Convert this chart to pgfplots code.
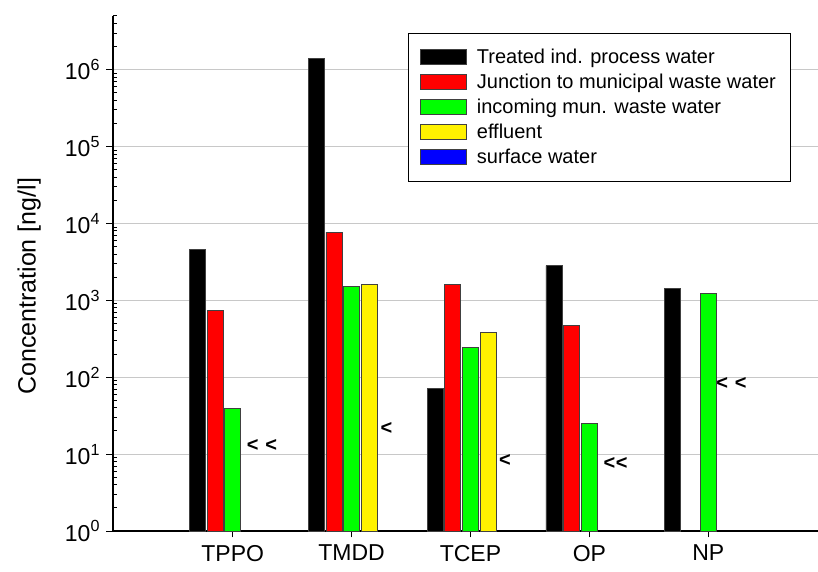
\documentclass[border=0pt]{standalone}
\usepackage{fontspec}
\setmainfont{Liberation Sans}
\usepackage{pgfplots}
\pgfplotsset{compat=1.18}
\definecolor{gridgray}{RGB}{200,200,200}
\pgfplotsset{
  barimg/.style={legend image code/.code={\draw[##1,line width=0.8pt] (0pt,-7.5pt) rectangle (46pt,7.5pt);}},
}
\begin{document}
\begin{tikzpicture}
\useasboundingbox (-113pt,-41pt) rectangle (705pt,531pt);
\begin{axis}[
  at={(0pt,0pt)}, anchor=south west,
  scale only axis, width=705pt, height=515pt,
  ymode=log, ymin=1, ymax=5e6,
  xmin=-1.007, xmax=4.923,
  axis x line*=bottom, axis y line*=left,
  axis line style={line width=1.3pt},
  xtick={0,1,2,3,4},
  xticklabels={TPPO,TMDD,TCEP,OP,NP},
  x tick label style={font=\fontsize{23}{27}\selectfont, yshift=-4pt},
  ytick={1,10,100,1000,10000,100000,1000000},
  yticklabels={10\textsuperscript{0},10\textsuperscript{1},10\textsuperscript{2},10\textsuperscript{3},10\textsuperscript{4},10\textsuperscript{5},10\textsuperscript{6}},
  minor ytick={2,3,4,5,6,7,8,9,20,30,40,50,60,70,80,90,200,300,400,500,600,700,800,900,2000,3000,4000,5000,6000,7000,8000,9000,20000,30000,40000,50000,60000,70000,80000,90000,200000,300000,400000,500000,600000,700000,800000,900000,2000000,3000000,4000000,5000000},
  y tick label style={font=\fontsize{23}{27}\selectfont, xshift=-3pt},
  tick align=outside,
  major tick length=6.5pt,
  minor tick length=4.5pt,
  tick style={black, line width=1pt},
  minor y tick style={xshift=4.5pt},
  ymajorgrids,
  major grid style={gridgray, line width=1.2pt},
  ylabel={Concentration [ng/l]},
  ylabel style={at={(axis description cs:-0.119,0.475)}, anchor=center, font=\fontsize{25}{30}\selectfont},
  ybar, bar width=16pt,
  every axis plot/.append style={draw=black!75, line width=0.8pt},
  legend style={at={(axis description cs:0.418,0.967)}, anchor=north west,
    draw=black, line width=0.8pt, font=\fontsize{20}{24}\selectfont,
    inner xsep=12pt, inner ysep=14pt, row sep=5pt,
    /tikz/every odd column/.append style={column sep=8pt}},
  legend cell align=left,
]
\addplot[fill=black, bar shift=-35.4pt, barimg] coordinates {(0,4645) (1,1420000) (2,72) (3,2840) (4,1410)};
\addlegendentry{Treated ind. process water}
\addplot[fill=red, bar shift=-17.7pt, barimg] coordinates {(0,746) (1,7720) (2,1606) (3,470)};
\addlegendentry{Junction to municipal waste water}
\addplot[fill=green, bar shift=0pt, barimg] coordinates {(0,39.1) (1,1500) (2,241) (3,25.2) (4,1216)};
\addlegendentry{incoming mun. waste water}
\addplot[fill=yellow, bar shift=17.7pt, barimg] coordinates {(1,1606) (2,386)};
\addlegendentry{effluent}
\addlegendimage{fill=blue, draw=black!75, barimg}
\addlegendentry{surface water}
\node[font=\fontsize{20}{24}\selectfont\bfseries] at (axis cs:0.246,12.8) {<\hspace{0.35em}<};
\node[font=\fontsize{20}{24}\selectfont\bfseries] at (axis cs:1.293,21.3) {<};
\node[font=\fontsize{20}{24}\selectfont\bfseries] at (axis cs:2.29,8.2) {<};
\node[font=\fontsize{20}{24}\selectfont\bfseries] at (axis cs:3.22,7.45) {<\kern0.5pt<};
\node[font=\fontsize{20}{24}\selectfont\bfseries] at (axis cs:4.195,81.9) {<\hspace{0.35em}<};
\end{axis}
\end{tikzpicture}
\end{document}
